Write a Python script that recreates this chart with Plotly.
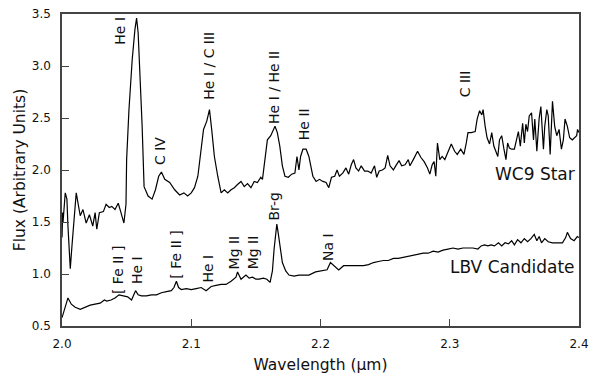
import plotly.graph_objects as go

# WC9 star spectrum (wavelength in micron, flux in arbitrary units)
wc9_wl = [2.0, 2.0005, 2.0008, 2.0025, 2.0038, 2.0046, 2.0064, 2.0077, 2.0110, 2.0141,
          2.0162, 2.0187, 2.0212, 2.0238, 2.0256, 2.0269, 2.0289, 2.0320, 2.0341, 2.0366,
          2.0385, 2.0410, 2.0435, 2.0454, 2.0479, 2.0495, 2.0500, 2.0518, 2.0543, 2.0564,
          2.0577, 2.0589, 2.0602, 2.0620, 2.0635, 2.0666, 2.0697, 2.0723, 2.0748, 2.0769,
          2.0795, 2.0833, 2.0872, 2.0910, 2.0943, 2.0972, 2.1000, 2.1025, 2.1051, 2.1077,
          2.1095, 2.1120, 2.1141, 2.1158, 2.1179, 2.1205, 2.1231, 2.1256, 2.1282, 2.1308,
          2.1333, 2.1358, 2.1385, 2.1410, 2.1435, 2.1462, 2.1487, 2.1512, 2.1538, 2.1551,
          2.1572, 2.1589, 2.1615, 2.1628, 2.1648, 2.1666, 2.1685, 2.1705, 2.1725, 2.1751,
          2.1777, 2.1802, 2.1818, 2.1833, 2.1846, 2.1864, 2.1889, 2.1910, 2.1931, 2.1941,
          2.1966, 2.1992, 2.2018, 2.2043, 2.2064, 2.2085, 2.2110, 2.2128, 2.2146, 2.2172,
          2.2197, 2.2218, 2.2238, 2.2256, 2.2274, 2.2295, 2.2315, 2.2341, 2.2366, 2.2392,
          2.2418, 2.2435, 2.2454, 2.2479, 2.2500, 2.2520, 2.2538, 2.2564, 2.2582, 2.2608,
          2.2628, 2.2654, 2.2679, 2.2692, 2.2718, 2.2735, 2.2751, 2.2777, 2.2802, 2.2828,
          2.2846, 2.2864, 2.2879, 2.2892, 2.2905, 2.2923, 2.2941, 2.2962, 2.2987, 2.3012,
          2.3038, 2.3058, 2.3085, 2.3110, 2.3128, 2.3141, 2.3166, 2.3197, 2.3212, 2.3231,
          2.3248, 2.3258, 2.3274, 2.3289, 2.3308, 2.3325, 2.3341, 2.3358, 2.3372, 2.3385,
          2.3402, 2.3418, 2.3435, 2.3448, 2.3462, 2.3479, 2.3500, 2.3520, 2.3531, 2.3546,
          2.3564, 2.3577, 2.3589, 2.3602, 2.3615, 2.3633, 2.3648, 2.3658, 2.3674, 2.3692,
          2.3705, 2.3725, 2.3735, 2.3751, 2.3762, 2.3777, 2.3795, 2.3812, 2.3828, 2.3846,
          2.3864, 2.3879, 2.3892, 2.3910, 2.3928, 2.3948, 2.3966, 2.3982, 2.3989, 2.4000]
wc9_flux = [1.35, 1.59, 1.50, 1.78, 1.72, 1.46, 1.05, 1.27, 1.78, 1.56,
            1.62, 1.49, 1.57, 1.46, 1.59, 1.43, 1.59, 1.60, 1.67, 1.64,
            1.65, 1.62, 1.68, 1.60, 1.49, 1.67, 2.10, 2.58, 3.06, 3.35,
            3.46, 3.32, 2.97, 2.42, 1.84, 1.75, 1.72, 1.81, 1.94, 1.98,
            1.91, 1.88, 1.81, 1.76, 1.78, 1.75, 1.78, 1.83, 1.94, 2.20,
            2.39, 2.47, 2.58, 2.39, 2.13, 1.94, 1.78, 1.81, 1.78, 1.81,
            1.83, 1.86, 1.89, 1.84, 1.87, 1.83, 1.89, 1.88, 1.93, 1.91,
            2.13, 2.29, 2.33, 2.37, 2.42, 2.36, 2.23, 2.04, 1.94, 1.93,
            1.96, 1.97, 2.13, 2.00, 2.13, 2.20, 2.20, 2.13, 2.00, 1.94,
            1.89, 1.91, 1.89, 1.88, 1.83, 1.93, 1.94, 2.00, 1.94, 1.97,
            2.02, 1.96, 2.05, 2.10, 2.02, 1.99, 2.04, 1.99, 1.99, 1.97,
            2.04, 1.93, 1.99, 2.00, 2.02, 2.14, 2.04, 2.00, 2.04, 2.09,
            2.04, 2.05, 2.10, 2.04, 2.10, 2.15, 2.18, 2.12, 2.08, 2.02,
            1.96, 2.05, 2.08, 1.94, 2.26, 2.10, 2.13, 2.10, 2.18, 2.25,
            2.18, 2.15, 2.20, 2.15, 2.26, 2.36, 2.36, 2.37, 2.49, 2.57,
            2.53, 2.58, 2.42, 2.31, 2.25, 2.36, 2.23, 2.17, 2.13, 2.29,
            2.33, 2.21, 2.10, 2.26, 2.21, 2.20, 2.20, 2.31, 2.37, 2.23,
            2.45, 2.26, 2.44, 2.37, 2.52, 2.55, 2.29, 2.49, 2.18, 2.50,
            2.61, 2.20, 2.42, 2.58, 2.52, 2.15, 2.66, 2.42, 2.33, 2.39,
            2.20, 2.29, 2.49, 2.42, 2.31, 2.29, 2.31, 2.33, 2.39, 2.36]

# LBV candidate spectrum
lbv_wl = [2.0, 2.0046, 2.0072, 2.0102, 2.0141, 2.0179, 2.0218, 2.0256, 2.0295, 2.0328,
          2.0346, 2.0379, 2.0410, 2.0441, 2.0474, 2.0508, 2.0538, 2.0569, 2.0589, 2.0615,
          2.0654, 2.0692, 2.0731, 2.0769, 2.0808, 2.0846, 2.0866, 2.0885, 2.0902, 2.0923,
          2.0962, 2.1000, 2.1038, 2.1077, 2.1115, 2.1154, 2.1192, 2.1231, 2.1269, 2.1308,
          2.1346, 2.1358, 2.1385, 2.1405, 2.1423, 2.1448, 2.1474, 2.1500, 2.1525, 2.1558,
          2.1585, 2.1610, 2.1628, 2.1641, 2.1654, 2.1662, 2.1672, 2.1687, 2.1705, 2.1731,
          2.1756, 2.1795, 2.1833, 2.1872, 2.1910, 2.1962, 2.2012, 2.2051, 2.2077, 2.2102,
          2.2141, 2.2179, 2.2218, 2.2256, 2.2295, 2.2333, 2.2372, 2.2410, 2.2448, 2.2487,
          2.2525, 2.2564, 2.2602, 2.2641, 2.2679, 2.2718, 2.2756, 2.2795, 2.2833, 2.2872,
          2.2910, 2.2948, 2.2987, 2.3025, 2.3064, 2.3102, 2.3141, 2.3179, 2.3218, 2.3243,
          2.3269, 2.3295, 2.3320, 2.3346, 2.3377, 2.3402, 2.3428, 2.3454, 2.3479, 2.3500,
          2.3525, 2.3551, 2.3577, 2.3602, 2.3628, 2.3654, 2.3674, 2.3692, 2.3710, 2.3735,
          2.3762, 2.3795, 2.3833, 2.3872, 2.3897, 2.3910, 2.3935, 2.3962, 2.3987, 2.4000]
lbv_flux = [0.58, 0.77, 0.71, 0.68, 0.66, 0.68, 0.70, 0.71, 0.72, 0.75,
            0.74, 0.75, 0.77, 0.80, 0.79, 0.78, 0.75, 0.84, 0.80, 0.79,
            0.79, 0.80, 0.80, 0.82, 0.83, 0.84, 0.87, 0.93, 0.87, 0.85,
            0.86, 0.85, 0.86, 0.87, 0.84, 0.88, 0.89, 0.90, 0.90, 0.93,
            0.97, 1.02, 0.95, 0.97, 0.99, 0.96, 0.97, 0.95, 0.95, 0.96,
            0.95, 0.92, 1.03, 1.24, 1.44, 1.48, 1.40, 1.24, 1.11, 1.03,
            0.99, 0.98, 0.99, 0.99, 0.99, 1.02, 1.03, 1.04, 1.11, 1.08,
            1.04, 1.08, 1.08, 1.08, 1.08, 1.08, 1.09, 1.11, 1.12, 1.13,
            1.13, 1.15, 1.15, 1.16, 1.17, 1.18, 1.19, 1.20, 1.20, 1.22,
            1.21, 1.23, 1.24, 1.25, 1.24, 1.25, 1.25, 1.25, 1.24, 1.27,
            1.28, 1.27, 1.28, 1.27, 1.30, 1.27, 1.30, 1.29, 1.32, 1.28,
            1.33, 1.30, 1.34, 1.31, 1.34, 1.38, 1.32, 1.36, 1.30, 1.34,
            1.31, 1.30, 1.30, 1.30, 1.35, 1.40, 1.34, 1.32, 1.36, 1.35]

# Line identifications (rotated labels): text, wavelength, flux
line_labels = ["He I", "C IV", "He I / C III", "He I / He II", "He II", "C III",
               "[ Fe II ]", "He I", "[ Fe II ]", "He I", "Mg II", "Mg II", "Br-g", "Na I"]
line_x = [2.0449, 2.0764, 2.1135, 2.1641, 2.1872, 2.3115,
          2.0435, 2.0582, 2.0885, 2.1128, 2.1333, 2.1479, 2.1641, 2.2058]
line_y = [3.34, 2.18, 3.00, 2.79, 2.44, 2.83,
          1.04, 1.04, 1.19, 1.05, 1.21, 1.21, 1.65, 1.26]

series_names = ["WC9 Star", "LBV Candidate"]
series_label_y = [1.96, 1.07]

x_ticks = [2.0, 2.1, 2.2, 2.3, 2.4]
y_ticks = [0.5, 1.0, 1.5, 2.0, 2.5, 3.0, 3.5]

FONT = "DejaVu Sans"
INK = "#111111"
AXIS = "#444444"

fig = go.Figure()
fig.add_trace(go.Scatter(x=wc9_wl, y=wc9_flux, mode="lines", name=series_names[0],
                         line=dict(color="black", width=1.2)))
fig.add_trace(go.Scatter(x=lbv_wl, y=lbv_flux, mode="lines", name=series_names[1],
                         line=dict(color="black", width=1.2)))

for t, x, y in zip(line_labels, line_x, line_y):
    fig.add_annotation(x=x, y=y, text=t, textangle=-90, showarrow=False,
                       font=dict(family=FONT, size=14, color=INK))

for name, y in zip(series_names, series_label_y):
    fig.add_annotation(x=2.3985, y=y, text=name, showarrow=False, xanchor="right",
                       font=dict(family=FONT, size=17, color=INK))

fig.update_layout(
    width=589, height=374,
    margin=dict(l=62, r=10, t=14, b=48),
    paper_bgcolor="white", plot_bgcolor="white",
    showlegend=False,
    font=dict(family=FONT, color=INK),
)
fig.update_xaxes(range=[1.99999, 2.40001], tickvals=x_ticks,
                 ticktext=[f"{v:.1f}" for v in x_ticks],
                 ticks="inside", ticklen=7, tickwidth=1, tickcolor=AXIS,
                 showline=True, linecolor=AXIS, linewidth=1.5, mirror=True,
                 showgrid=False, zeroline=False, ticklabelstandoff=6,
                 ticklabeloverflow="allow", automargin=False,
                 tickfont=dict(family=FONT, size=12, color=INK),
                 title=dict(text="Wavelength (µm)", standoff=10,
                            font=dict(family=FONT, size=15.5, color=INK)))
fig.update_yaxes(range=[0.49999, 3.50001], tickvals=y_ticks,
                 ticktext=[f"{v:.1f}" for v in y_ticks],
                 ticks="inside", ticklen=7, tickwidth=1, tickcolor=AXIS,
                 showline=True, linecolor=AXIS, linewidth=1.5, mirror=True,
                 showgrid=False, zeroline=False, ticklabelstandoff=7,
                 ticklabeloverflow="allow", automargin=False,
                 tickfont=dict(family=FONT, size=12, color=INK),
                 title=dict(text="Flux (Arbitrary Units)", standoff=2,
                            font=dict(family=FONT, size=15.5, color=INK)))

fig.write_html("out.html")
